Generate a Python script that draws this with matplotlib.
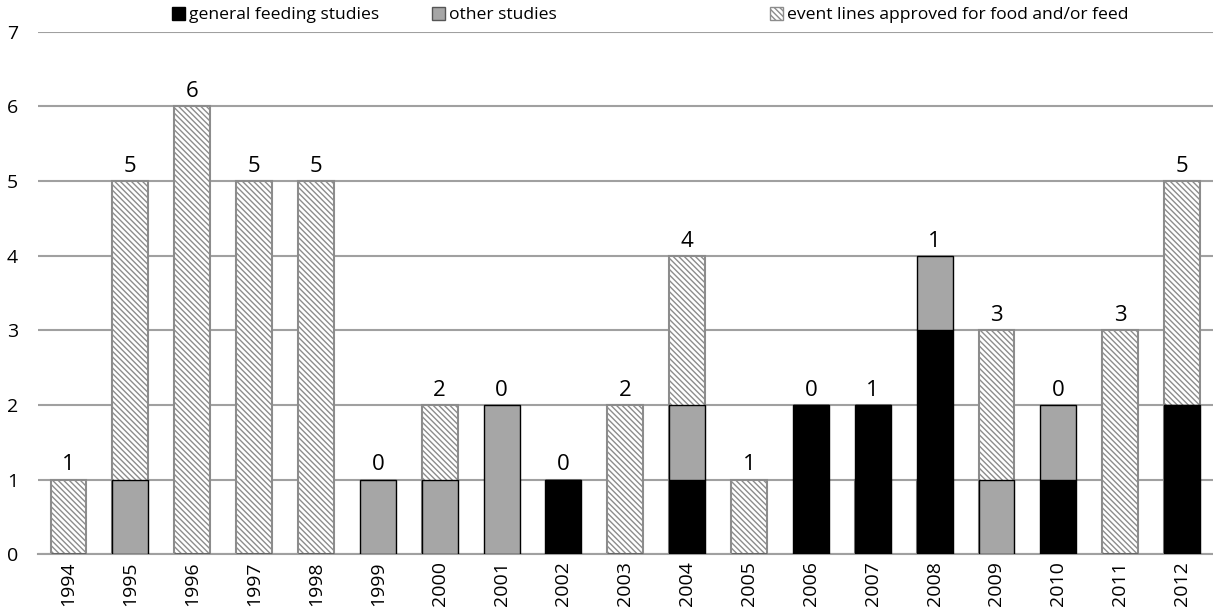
import matplotlib
matplotlib.use("Agg")
import matplotlib.pyplot as plt
from matplotlib.patches import Patch
import numpy as np

years = ["1994", "1995", "1996", "1997", "1998", "1999", "2000", "2001", "2002", "2003",
         "2004", "2005", "2006", "2007", "2008", "2009", "2010", "2011", "2012"]
general_feeding = [0, 0, 0, 0, 0, 0, 0, 0, 1, 0, 1, 0, 2, 2, 3, 0, 1, 0, 2]
other_studies = [0, 1, 0, 0, 0, 1, 1, 2, 0, 0, 1, 0, 0, 0, 1, 1, 1, 0, 0]
event_lines = [1, 5, 6, 5, 5, 0, 2, 0, 0, 2, 4, 1, 0, 1, 1, 3, 0, 3, 5]
legend_labels = ["general feeding studies", "other studies", "event lines approved for food and/or feed"]

plt.rcParams['font.family'] = ['Open Sans', 'DejaVu Sans']
plt.rcParams['hatch.color'] = '#7a7a7a'
plt.rcParams['hatch.linewidth'] = 1.0

fig = plt.figure(figsize=(12.13, 6.13), dpi=100)
ax = fig.add_axes([0.031, 0.096, 0.969, 0.852])

x = np.arange(len(years))
w = 0.58
gf = np.array(general_feeding)
ot = np.array(other_studies)
ev = np.array(event_lines)
hatch = '\\' * 6

ax.bar(x, ev, width=w, color='white', edgecolor='#8c8c8c', linewidth=1.5,
       hatch=hatch, zorder=2)
ax.bar(x, gf, width=w, color='black', edgecolor='black', linewidth=1.0, zorder=3)
ax.bar(x, ot, bottom=gf, width=w, color='#a6a6a6', edgecolor='black', linewidth=1.0, zorder=3)

tops = np.maximum(ev, gf + ot)
for xi, t, v in zip(x, tops, ev):
    ax.annotate(str(v), (xi, t), xytext=(0, 3), textcoords='offset points',
                ha='center', va='bottom', fontsize=16)

ax.set_xlim(-0.5, len(years) - 0.5)
ax.set_ylim(0, 7)
ax.set_yticks(range(0, 8))
ax.yaxis.grid(True, color='#a0a0a0', linewidth=1.5, zorder=0)
ax.set_axisbelow(True)
for s in ['top', 'right', 'left']:
    ax.spines[s].set_visible(False)
ax.spines['bottom'].set_color('#a0a0a0')
ax.spines['bottom'].set_linewidth(1.5)
ax.tick_params(axis='both', length=0, labelsize=14)
ax.tick_params(axis='y', pad=14)
ax.tick_params(axis='x', pad=5)
ax.set_xticks(x)
ax.set_xticklabels(years, rotation=90)

handles = [Patch(facecolor='black', edgecolor='black'),
           Patch(facecolor='#a6a6a6', edgecolor='#555555'),
           Patch(facecolor='white', edgecolor='#8c8c8c', hatch=hatch)]
xs = [172, 432, 770]
for h, lab, xp in zip(handles, legend_labels, xs):
    fig.legend([h], [lab], loc='center left', bbox_to_anchor=(xp / 1213, 1 - 15 / 613),
               frameon=False, fontsize=12.6, handlelength=0.75, handleheight=0.75,
               handletextpad=0.2, borderaxespad=0, borderpad=0)

fig.savefig('out.png', dpi=100)
